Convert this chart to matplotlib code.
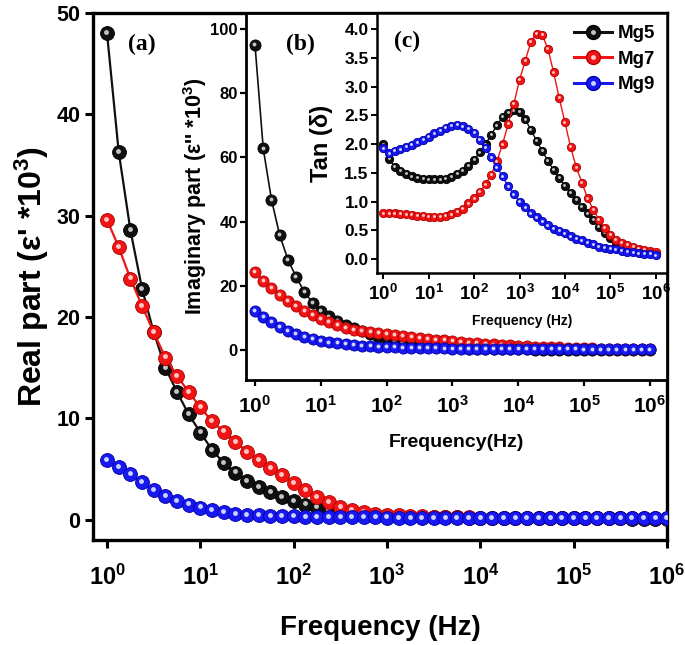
import numpy as np
import matplotlib
matplotlib.use("Agg")
import matplotlib.pyplot as plt
from matplotlib.transforms import ScaledTranslation
from matplotlib.legend_handler import HandlerTuple

plt.rcParams['font.family'] = ['Liberation Sans', 'DejaVu Sans']
plt.rcParams['font.weight'] = 'bold'
plt.rcParams['mathtext.fontset'] = 'custom'
plt.rcParams['mathtext.rm'] = 'Liberation Sans:bold'
plt.rcParams['mathtext.bf'] = 'Liberation Sans:bold'
plt.rcParams['mathtext.it'] = 'Liberation Sans:bold:italic'
plt.rcParams['mathtext.default'] = 'bf'

# measurement sweep: 8 points per decade, 1 Hz .. 1 MHz
freq = np.logspace(0, 6, 49)
samples = ['Mg5', 'Mg7', 'Mg9']

# (a) real part, eps' * 1e3
real_mg5 = [48.0, 36.3, 28.6, 22.8, 18.5, 15.0, 12.6, 10.4, 8.6, 6.9,
            5.6, 4.65, 3.8, 3.2, 2.7, 2.2, 1.8, 1.5, 1.2, 0.95,
            0.75, 0.6, 0.5, 0.42, 0.36, 0.32, 0.29, 0.27, 0.25, 0.23,
            0.22, 0.21, 0.2, 0.19, 0.18, 0.17, 0.16, 0.16, 0.15, 0.15,
            0.14, 0.14, 0.13, 0.13, 0.13, 0.12, 0.12, 0.12, 0.12]
real_mg7 = [29.6, 26.9, 23.8, 21.1, 18.5, 16.0, 14.2, 12.6, 11.1, 9.7,
            8.7, 7.7, 6.7, 5.9, 5.1, 4.4, 3.6, 2.9, 2.2, 1.7,
            1.25, 0.95, 0.75, 0.6, 0.5, 0.42, 0.36, 0.32, 0.29, 0.26,
            0.24, 0.22, 0.21, 0.2, 0.19, 0.18, 0.17, 0.17, 0.16, 0.16,
            0.15, 0.15, 0.14, 0.14, 0.14, 0.13, 0.13, 0.13, 0.13]
real_mg9 = [5.9, 5.2, 4.5, 3.7, 2.9, 2.3, 1.8, 1.5, 1.2, 0.95,
            0.75, 0.6, 0.5, 0.45, 0.4, 0.36, 0.33, 0.3, 0.28, 0.26,
            0.25, 0.24, 0.23, 0.22, 0.21, 0.2, 0.2, 0.19, 0.19, 0.18,
            0.18, 0.17, 0.17, 0.17, 0.16, 0.16, 0.16, 0.16, 0.15, 0.15,
            0.15, 0.15, 0.15, 0.15, 0.15, 0.15, 0.15, 0.15, 0.15]

# (b) imaginary part, eps'' * 1e3
imag_mg5 = [95.0, 62.8, 46.9, 35.8, 28.2, 22.8, 18.1, 14.8, 12.2, 10.5,
            9.0, 7.9, 7.0, 6.0, 5.0, 4.2, 3.5, 2.9, 2.4, 2.0,
            1.6, 1.3, 1.1, 0.9, 0.75, 0.6, 0.5, 0.42, 0.36, 0.32,
            0.28, 0.25, 0.22, 0.2, 0.18, 0.16, 0.15, 0.14, 0.13, 0.12,
            0.11, 0.1, 0.1, 0.1, 0.1, 0.1, 0.1, 0.1, 0.1]
imag_mg7 = [24.4, 21.6, 19.4, 17.2, 15.3, 13.7, 12.2, 10.9, 9.7, 8.7,
            7.8, 7.0, 6.4, 6.0, 5.6, 5.3, 5.0, 4.7, 4.4, 4.1,
            3.8, 3.55, 3.3, 3.05, 2.8, 2.55, 2.35, 2.1, 1.9, 1.75,
            1.6, 1.45, 1.3, 1.2, 1.1, 1.0, 0.9, 0.82, 0.75, 0.68,
            0.6, 0.55, 0.5, 0.46, 0.42, 0.38, 0.35, 0.32, 0.3]
imag_mg9 = [12.2, 10.3, 8.7, 7.2, 5.9, 5.0, 4.1, 3.4, 2.8, 2.4,
            2.1, 1.8, 1.55, 1.35, 1.2, 1.05, 0.95, 0.85, 0.78, 0.72,
            0.66, 0.6, 0.56, 0.52, 0.48, 0.45, 0.42, 0.4, 0.38, 0.36,
            0.34, 0.32, 0.3, 0.29, 0.28, 0.27, 0.26, 0.25, 0.24, 0.23,
            0.22, 0.21, 0.2, 0.2, 0.2, 0.2, 0.2, 0.2, 0.2]

# (c) loss tangent
tan_mg5 = [2.00, 1.74, 1.61, 1.54, 1.48, 1.44, 1.41, 1.40, 1.39, 1.39,
           1.39, 1.40, 1.43, 1.48, 1.54, 1.62, 1.73, 1.86, 2.00, 2.16,
           2.33, 2.47, 2.55, 2.59, 2.56, 2.43, 2.25, 2.06, 1.88, 1.71,
           1.55, 1.41, 1.28, 1.15, 1.03, 0.91, 0.80, 0.68, 0.56, 0.46,
           0.37, 0.29, 0.23, 0.19, 0.16, 0.14, 0.12, 0.11, 0.10]
tan_mg7 = [0.80, 0.80, 0.80, 0.79, 0.78, 0.77, 0.76, 0.75, 0.74, 0.74,
           0.74, 0.76, 0.78, 0.82, 0.88, 0.97, 1.06, 1.17, 1.30, 1.47,
           1.70, 2.00, 2.35, 2.70, 3.12, 3.45, 3.78, 3.92, 3.90, 3.66,
           3.25, 2.80, 2.38, 1.95, 1.60, 1.33, 1.06, 0.86, 0.69, 0.55,
           0.42, 0.34, 0.29, 0.25, 0.21, 0.18, 0.16, 0.14, 0.12]
tan_mg9 = [1.93, 1.84, 1.88, 1.91, 1.95, 1.99, 2.03, 2.07, 2.13, 2.19,
           2.23, 2.28, 2.32, 2.34, 2.31, 2.27, 2.20, 2.08, 1.94, 1.77,
           1.60, 1.44, 1.27, 1.13, 1.00, 0.90, 0.80, 0.73, 0.66, 0.59,
           0.53, 0.49, 0.45, 0.40, 0.36, 0.33, 0.29, 0.26, 0.22, 0.20,
           0.18, 0.17, 0.15, 0.13, 0.12, 0.10, 0.09, 0.09, 0.07]

colors = ['#101010', '#f01414', '#1818f0']
edges = ['#000000', '#b00000', '#0000a8']
lights = ['#c4c4c4', '#ffc8c8', '#cdd4ff']


def ball_series(ax, x, y, i, ms, lw, z):
    """line + 'sphere' markers: base dot plus a small highlight dot"""
    fig = ax.figure
    ln, = ax.plot(x, y, '-o', color=colors[i], lw=lw, ms=ms,
                  mfc=colors[i], mec=edges[i], mew=0.6, zorder=z)
    shift = ScaledTranslation(-ms * 0.06 / 72, ms * 0.08 / 72, fig.dpi_scale_trans)
    hl, = ax.plot(x, y, 'o', ms=ms * 0.35, mfc=lights[i], mec='none',
                  transform=ax.transData + shift, zorder=z + 0.5)
    return ln, hl


def style_axes(ax, lw, tl, tw):
    for s in ax.spines.values():
        s.set_linewidth(lw)
    ax.tick_params(which='major', direction='out', length=tl, width=tw)
    ax.tick_params(which='minor', length=0)
    ax.set_xscale('log')
    ax.set_xticks([10.0 ** k for k in range(7)])
    ax.set_xticklabels([r'$\mathbf{10^{%d}}$' % k for k in range(7)])


fig = plt.figure(figsize=(6.85, 6.45), dpi=100)

# ---- main panel (a)
ax = fig.add_axes([0.1358, 0.1628, 0.8380, 0.8171])
style_axes(ax, 2.4, 6, 2.2)
real_sets = [real_mg5, real_mg7, real_mg9]
for i in range(3):
    ball_series(ax, freq, real_sets[i], i, 10, 1.6, 3 + i)
ax.set_xlim(10 ** -0.15, 1e6)
ax.set_ylim(-2, 50)
ax.set_yticks([0, 10, 20, 30, 40, 50])
ax.tick_params(axis='y', labelsize=15.5, pad=3)
ax.tick_params(axis='x', labelsize=17, pad=12)
ax.set_xlabel('Frequency (Hz)', fontsize=20, fontweight='bold', labelpad=18)
ax.set_ylabel("Real part (ε' *10$^{3}$)", fontsize=23, fontweight='bold', labelpad=4)
ax.text(0.085, 0.94, '(a)', transform=ax.transAxes, fontsize=17, fontweight='bold',
        family='Liberation Serif', ha='center', va='center')

# ---- inset (b)
axb = fig.add_axes([0.3591, 0.4109, 0.6147, 0.5690])
style_axes(axb, 2.0, 4, 1.6)
imag_sets = [imag_mg5, imag_mg7, imag_mg9]
for i in range(3):
    ball_series(axb, freq, imag_sets[i], i, 8, 1.2, 3 + i)
axb.set_xlim(10 ** -0.137, 10 ** 6.26)
axb.set_ylim(-9.3, 105)
axb.set_yticks([0, 20, 40, 60, 80, 100])
axb.tick_params(axis='y', labelsize=12, pad=2)
axb.tick_params(axis='x', labelsize=15, pad=7)
axb.set_xlabel('Frequency(Hz)', fontsize=14, fontweight='bold', labelpad=12)
axb.set_ylabel("Imaginary part (ε'' *10$^{3}$)", fontsize=15.5, fontweight='bold', labelpad=1)
axb.text(0.13, 0.915, '(b)', transform=axb.transAxes, fontsize=17, fontweight='bold',
         family='Liberation Serif', ha='center', va='center')

# ---- inset (c)
axc = fig.add_axes([0.5504, 0.5767, 0.4234, 0.4031])
style_axes(axc, 1.8, 4, 1.4)
tan_sets = [tan_mg5, tan_mg7, tan_mg9]
for i in range(3):
    ball_series(axc, freq, tan_sets[i], i, 6, 1.0, 3 + i)
axc.set_xlim(10 ** -0.14, 10 ** 6.25)
axc.set_ylim(-0.24, 4.28)
axc.set_yticks(np.arange(0, 4.01, 0.5))
axc.set_yticklabels(['%.1f' % v for v in np.arange(0, 4.01, 0.5)])
axc.tick_params(axis='y', labelsize=12.5, pad=2)
axc.tick_params(axis='x', labelsize=13.5, pad=4)
axc.set_xlabel('Frequency (Hz)', fontsize=10, fontweight='bold', labelpad=7)
axc.set_ylabel('Tan (δ)', fontsize=17, fontweight='bold', labelpad=8)
axc.text(0.105, 0.89, '(c)', transform=axc.transAxes, fontsize=17, fontweight='bold',
         family='Liberation Serif', ha='center', va='center')

# legend with bigger balls than the plotted ones
leg_handles = []
for i in range(3):
    l1 = plt.Line2D([], [], color=colors[i], lw=2.2, marker='o', ms=10,
                    mfc=colors[i], mec=edges[i])
    l2 = plt.Line2D([], [], ls='none', marker='o', ms=3.5, mfc=lights[i], mec='none')
    leg_handles.append((l1, l2))
axc.legend(leg_handles, samples, handler_map={tuple: HandlerTuple(ndivide=1)},
           loc='upper right', frameon=False, fontsize=13.5, handlelength=2.0,
           handletextpad=0.3, labelspacing=0.45, borderaxespad=0.25)

fig.savefig('out.png', dpi=100)
